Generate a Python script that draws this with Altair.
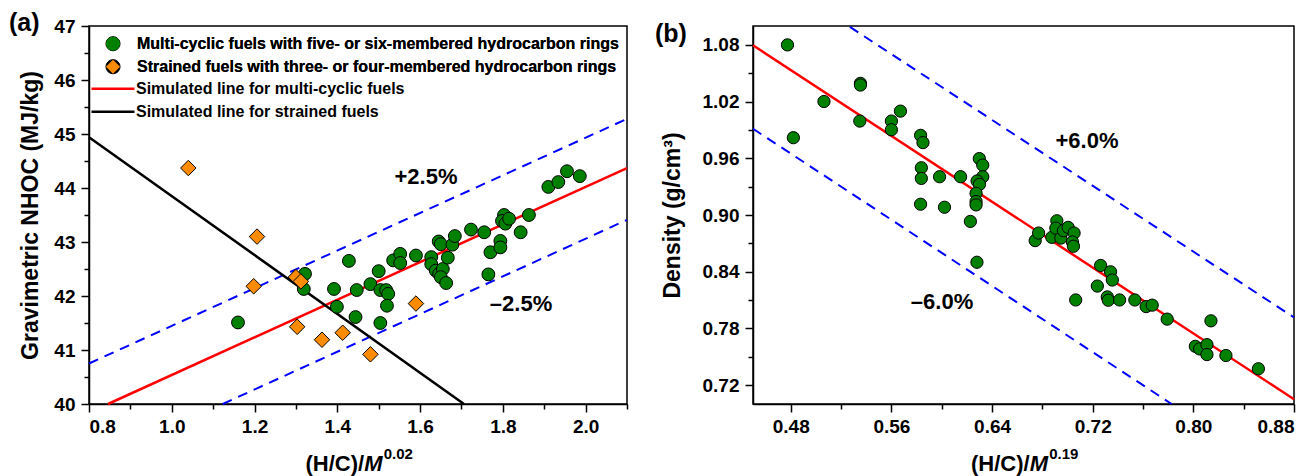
import altair as alt
import pandas as pd

FONT = "Liberation Sans"
GREEN = "#008000"
ORANGE = "#ff8c00"
RED = "#ff0000"
BLUE = "#0000ff"

LEG_MULTI = "Multi-cyclic fuels with five- or six-membered hydrocarbon rings"
LEG_STRAINED = "Strained fuels with three- or four-membered hydrocarbon rings"
LEG_SIM_MULTI = "Simulated line for multi-cyclic fuels"
LEG_SIM_STRAINED = "Simulated line for strained fuels"

# ---------------- panel (a) data ----------------
multi_a_x = [1.160, 1.428, 1.322, 1.319, 1.392, 1.399, 1.447, 1.444, 1.480, 1.500,
             1.504, 1.518, 1.523, 1.520, 1.504, 1.535, 1.552, 1.552, 1.590, 1.627,
             1.627, 1.638, 1.646, 1.655, 1.650, 1.663, 1.645, 1.650, 1.678, 1.684,
             1.667, 1.723, 1.755, 1.770, 1.765, 1.794, 1.794, 1.803, 1.798, 1.806,
             1.815, 1.843, 1.863, 1.910, 1.934, 1.955, 1.986]
multi_a_y = [41.51, 42.65, 42.41, 42.13, 42.13, 41.80, 42.11, 41.61, 42.22, 42.46,
             42.11, 42.11, 42.04, 41.82, 41.50, 42.66, 42.78, 42.61, 42.75, 42.72,
             42.59, 42.47, 42.41, 42.50, 42.35, 42.24, 43.01, 42.96, 42.95, 43.11,
             42.71, 43.23, 43.18, 42.81, 42.40, 43.02, 42.90, 43.50, 43.39, 43.34,
             43.43, 43.18, 43.50, 44.02, 44.11, 44.31, 44.22]
strained_x = [1.040, 1.206, 1.198, 1.300, 1.312, 1.303, 1.363, 1.413, 1.480, 1.590]
strained_y = [44.37, 43.10, 42.18, 42.35, 42.27, 41.43, 41.19, 41.32, 40.92, 41.86]

red_a_x = [0.846, 2.1]
red_a_y = [40.0, 44.37]
black_a_x = [0.8, 1.706]
black_a_y = [44.94, 40.0]
upper_a_x = [0.8, 2.1]
upper_a_y = [40.75, 45.28]
lower_a_x = [1.123, 2.1]
lower_a_y = [40.0, 43.41]

a_x_ticks = [0.8, 0.9, 1.0, 1.1, 1.2, 1.3, 1.4, 1.5, 1.6, 1.7, 1.8, 1.9, 2.0, 2.1]
a_y_ticks = [40, 40.5, 41, 41.5, 42, 42.5, 43, 43.5, 44, 44.5, 45, 45.5, 46, 46.5, 47]

# ---------------- panel (b) data ----------------
multi_b_x = [0.4774, 0.4821, 0.5064, 0.5354, 0.5354, 0.5349, 0.5600, 0.5600, 0.5672, 0.5832,
             0.5851, 0.5838, 0.5838, 0.5832, 0.5983, 0.6022, 0.6150, 0.6299, 0.6326, 0.6326,
             0.6281, 0.6300, 0.6273, 0.6273, 0.6273, 0.6228, 0.6280, 0.6743, 0.6770, 0.6875,
             0.6915, 0.6907, 0.6947, 0.6968, 0.7005, 0.7052, 0.7039, 0.7047, 0.7065, 0.7263,
             0.7237, 0.7342, 0.7356, 0.7316, 0.7324, 0.7414, 0.7535, 0.7625, 0.7673, 0.7792,
             0.8140, 0.8016, 0.8050, 0.8108, 0.8108, 0.8259, 0.8517]
multi_b_y = [1.0800, 0.9818, 1.0201, 1.0393, 1.0375, 0.9994, 0.9994, 0.9902, 1.0099, 0.9843,
             0.9766, 0.9500, 0.9387, 0.9114, 0.9405, 0.9082, 0.9405, 0.9597, 0.9528, 0.9405,
             0.9360, 0.9324, 0.9229, 0.9142, 0.9107, 0.8932, 0.8500, 0.8729, 0.8809, 0.8764,
             0.8939, 0.8861, 0.8756, 0.8834, 0.8869, 0.8809, 0.8714, 0.8669, 0.8101, 0.8466,
             0.8248, 0.8399, 0.8312, 0.8133, 0.8098, 0.8101, 0.8101, 0.8031, 0.8046, 0.7898,
             0.7880, 0.7610, 0.7583, 0.7628, 0.7523, 0.7513, 0.7373]

red_b_x = [0.45, 0.88]
red_b_y = [1.0796, 0.705]
upper_b_x = [0.527, 0.88]
upper_b_y = [1.099, 0.7916]
lower_b_x = [0.45, 0.7827]
lower_b_y = [0.9913, 0.70]

b_x_ticks = [0.48, 0.52, 0.56, 0.60, 0.64, 0.68, 0.72, 0.76, 0.80, 0.84, 0.88]
b_y_ticks = [0.72, 0.75, 0.78, 0.81, 0.84, 0.87, 0.90, 0.93, 0.96, 0.99, 1.02, 1.05, 1.08]

W_A, W_B, H = 538, 541, 378


def tick_axis(values, major, fmt, **kw):
    return alt.Axis(
        values=values,
        labelExpr=f"({major}) ? format(datum.value, '{fmt}') : ''",
        tickSize={"condition": {"test": f"!({major})", "value": 5}, "value": 8},
        grid=False,
        **kw,
    )


def note(text, x, y, size=22, align="center", baseline="middle", style="normal"):
    return alt.Chart(pd.DataFrame({"t": [text]})).mark_text(
        font=FONT, fontSize=size, fontWeight="bold", fontStyle=style,
        align=align, baseline=baseline, color="black",
    ).encode(x=alt.value(x), y=alt.value(y), text="t:N")


def x_title(width, sup):
    cx = width / 2
    start = cx - 52.5
    p1 = start + 58.7
    return [
        note("(H/C)/", p1, 445, align="right", baseline="alphabetic"),
        note("M", p1, 445, align="left", baseline="alphabetic", style="italic"),
        note(sup, p1 + 19.5, 433, size=15, align="left", baseline="alphabetic"),
    ]


# ---------------- panel (a) ----------------
xa = alt.X("x:Q", scale=alt.Scale(domain=[0.8, 2.1], nice=False, zero=False),
           axis=tick_axis(a_x_ticks, "round(datum.value*10) % 2 == 0", ".1f",
                          title=None, labelPadding=5))
ya = alt.Y("y:Q", scale=alt.Scale(domain=[40, 47], nice=False, zero=False),
           axis=tick_axis(a_y_ticks, "round(datum.value*2) % 2 == 0", "d",
                          title="Gravimetric NHOC (MJ/kg)", labelPadding=6,
                          minExtent=36, maxExtent=36, titlePadding=11))

multi_a = pd.DataFrame({"x": multi_a_x, "y": multi_a_y, "series": [LEG_MULTI] * len(multi_a_x)})
strained_a = pd.DataFrame({"x": strained_x, "y": strained_y, "series": [LEG_STRAINED] * len(strained_x)})
lines_a = pd.DataFrame({
    "x": red_a_x + black_a_x,
    "y": red_a_y + black_a_y,
    "name": [LEG_SIM_MULTI] * 2 + [LEG_SIM_STRAINED] * 2,
})
band_a = pd.DataFrame({
    "x": upper_a_x + lower_a_x,
    "y": upper_a_y + lower_a_y,
    "band": ["up"] * 2 + ["low"] * 2,
})

pt_dom = [LEG_MULTI, LEG_STRAINED]
pt_legend = alt.Legend(
    orient="none", legendX=16, legendY=6.2, title=None, padding=0, rowPadding=0,
    clipHeight=23, symbolSize=200, symbolStrokeWidth=1,
    labelOffset=16, labelFont=FONT, labelFontSize=16, labelFontWeight="bold",
    labelColor="black", labelLimit=600,
)
ln_legend = alt.Legend(
    orient="none", legendX=1, legendY=51.2, title=None, padding=0, rowPadding=0,
    clipHeight=23, symbolType="stroke", symbolSize=1849, symbolStrokeWidth=2.5,
    labelOffset=0, labelFont=FONT, labelFontSize=16, labelFontWeight="bold",
    labelColor="black", labelLimit=600,
)

fill_a = alt.Fill("series:N", scale=alt.Scale(domain=pt_dom, range=[GREEN, ORANGE]), legend=pt_legend)
shape_a = alt.Shape("series:N", scale=alt.Scale(domain=pt_dom, range=["circle", "diamond"]), legend=pt_legend)
stroke_pt_a = alt.Stroke("series:N", scale=alt.Scale(domain=pt_dom, range=["black", "black"]), legend=pt_legend)

band_layer_a = alt.Chart(band_a).mark_line(color=BLUE, strokeWidth=2, strokeDash=[10, 7]).encode(
    x=xa, y=ya, detail="band:N")
line_layer_a = alt.Chart(lines_a).mark_line(strokeWidth=2.5).encode(
    x=xa, y=ya,
    stroke=alt.Stroke("name:N", scale=alt.Scale(domain=[LEG_SIM_MULTI, LEG_SIM_STRAINED],
                                                  range=[RED, "black"]), legend=ln_legend))
multi_layer_a = alt.Chart(multi_a).mark_point(
    filled=True, strokeWidth=1, opacity=1, size=165).encode(
    x=xa, y=ya, fill=fill_a, shape=shape_a, stroke=stroke_pt_a)
strained_layer_a = alt.Chart(strained_a).mark_point(
    filled=True, strokeWidth=1, opacity=1, size=240).encode(
    x=xa, y=ya, fill=fill_a, shape=shape_a, stroke=stroke_pt_a)
points_a = alt.layer(multi_layer_a, strained_layer_a)

panel_a = alt.layer(
    band_layer_a, line_layer_a, points_a,
    note("+2.5%", 337, 151), note("\u20132.5%", 432, 278),
    note("(a)", -80, -3, size=25, align="left"),
    *x_title(W_A, "0.02"),
).resolve_scale(stroke="independent").properties(width=W_A, height=H)

# ---------------- panel (b) ----------------
xb = alt.X("x:Q", scale=alt.Scale(domain=[0.45, 0.88], nice=False, zero=False),
           axis=tick_axis(b_x_ticks, "round(datum.value*100) % 8 == 0", ".2f",
                          title=None, labelPadding=5))
yb = alt.Y("y:Q", scale=alt.Scale(domain=[0.70, 1.10], nice=False, zero=False),
           axis=tick_axis(b_y_ticks, "round(datum.value*100) % 6 == 0", ".2f",
                          title="Density (g/cm\u00b3)", labelPadding=6,
                          minExtent=56, maxExtent=56, titlePadding=13))

pts_b = pd.DataFrame({"x": multi_b_x, "y": multi_b_y})
red_b = pd.DataFrame({"x": red_b_x, "y": red_b_y})
band_b = pd.DataFrame({
    "x": upper_b_x + lower_b_x,
    "y": upper_b_y + lower_b_y,
    "band": ["up"] * 2 + ["low"] * 2,
})

panel_b = alt.layer(
    alt.Chart(band_b).mark_line(color=BLUE, strokeWidth=2, strokeDash=[10, 7]).encode(
        x=xb, y=yb, detail="band:N"),
    alt.Chart(red_b).mark_line(color=RED, strokeWidth=2.5).encode(x=xb, y=yb),
    alt.Chart(pts_b).mark_point(filled=True, fill=GREEN, stroke="black", strokeWidth=1,
                                opacity=1, size=150, shape="circle").encode(x=xb, y=yb),
    note("+6.0%", 334, 115), note("\u20136.0%", 189, 276),
    note("(b)", -98, 8, size=25, align="left"),
    *x_title(W_B, "0.19"),
).properties(width=W_B, height=H)

chart = alt.hconcat(panel_a, panel_b, spacing=21).resolve_scale(
    x="independent", y="independent",
).configure(
    padding={"left": 0, "top": 2, "right": 0, "bottom": 0},
    background="white",
).configure_view(
    stroke="black", strokeWidth=1.5,
).configure_axis(
    labelFont=FONT, labelFontSize=19, labelFontWeight="bold", labelColor="black",
    titleFont=FONT, titleFontSize=23, titleFontWeight="bold", titleColor="black",
    domainColor="black", domainWidth=1.5, tickColor="black", tickWidth=1.5,
)

chart.save("out.html", embed_options={"renderer": "svg", "actions": False})
